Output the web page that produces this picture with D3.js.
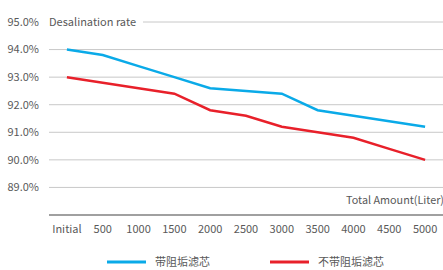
<!DOCTYPE html>
<html>
<head>
<meta charset="utf-8">
<script src="https://cdn.jsdelivr.net/npm/d3@7"></script>
<style>
  body { margin: 0; background: #fff; }
  svg text { font-family: "Noto Sans CJK SC", "Noto Sans", sans-serif; fill: #595959; }
</style>
</head>
<body>
<div id="chart"></div>
<script>
const categories = ['Initial', '500', '1000', '1500', '2000', '2500', '3000', '3500', '4000', '4500', '5000'];
const withFilter = [94.0, 93.8, 93.4, 93.0, 92.6, 92.5, 92.4, 91.8, 91.6, 91.4, 91.2];
const withoutFilter = [93.0, 92.8, 92.6, 92.4, 91.8, 91.6, 91.2, 91.0, 90.8, 90.4, 90.0];
const yTicks = [89, 90, 91, 92, 93, 94, 95];
const seriesNames = ['带阻垢滤芯', '不带阻垢滤芯'];
const seriesColors = ['#0aaae8', '#e8202a'];

const width = 443, height = 270;
const margin = { top: 22, right: 0, bottom: 55, left: 49 };

const svg = d3.select('#chart').append('svg')
  .attr('width', width).attr('height', height);

const x = d3.scaleBand().domain(categories)
  .range([margin.left, width - margin.right]);

const y = d3.scaleLinear().domain([88, 95])
  .range([height - margin.bottom, margin.top]);

// gridlines
yTicks.forEach(t => {
  svg.append('line')
    .attr('x1', t === 95 ? 143 : margin.left)
    .attr('x2', width - margin.right)
    .attr('y1', y(t)).attr('y2', y(t))
    .attr('stroke', '#c8c8c8').attr('stroke-width', 1);
  svg.append('text')
    .attr('x', 39).attr('y', y(t)).attr('dy', '0.35em')
    .attr('text-anchor', 'end').attr('font-size', 11)
    .text(t.toFixed(1) + '%');
});

// baseline
svg.append('line')
  .attr('x1', margin.left).attr('x2', width - margin.right)
  .attr('y1', y(88)).attr('y2', y(88))
  .attr('stroke', '#808080').attr('stroke-width', 1.5);

// x labels
svg.selectAll('.xlab').data(categories).enter().append('text')
  .attr('class', 'xlab')
  .attr('x', d => x(d) + x.bandwidth() / 2)
  .attr('y', y(88) + 14).attr('dy', '0.35em')
  .attr('text-anchor', 'middle').attr('font-size', 11)
  .text(d => d);

// axis titles
svg.append('text')
  .attr('x', margin.left).attr('y', y(95)).attr('dy', '0.35em')
  .attr('font-size', 11).text('Desalination rate');
svg.append('text')
  .attr('x', width + 1).attr('y', y(88) - 15).attr('dy', '0.35em')
  .attr('text-anchor', 'end').attr('font-size', 10.8).text('Total Amount(Liter)');

const line = d3.line()
  .x((d, i) => x(categories[i]) + x.bandwidth() / 2)
  .y(d => y(d));

[withFilter, withoutFilter].forEach((vals, i) => {
  svg.append('path')
    .datum(vals)
    .attr('fill', 'none')
    .attr('stroke', seriesColors[i])
    .attr('stroke-width', 2.5)
    .attr('d', line);
});

// legend
const legendX = [107, 270];
seriesNames.forEach((name, i) => {
  const g = svg.append('g').attr('transform', `translate(${legendX[i]},262)`);
  g.append('line').attr('x1', 0).attr('x2', 39).attr('y1', 0).attr('y2', 0)
    .attr('stroke', seriesColors[i]).attr('stroke-width', 3);
  g.append('text').attr('x', 48).attr('y', 0).attr('dy', '0.35em')
    .attr('font-size', 11).text(name);
});
</script>
</body>
</html>
